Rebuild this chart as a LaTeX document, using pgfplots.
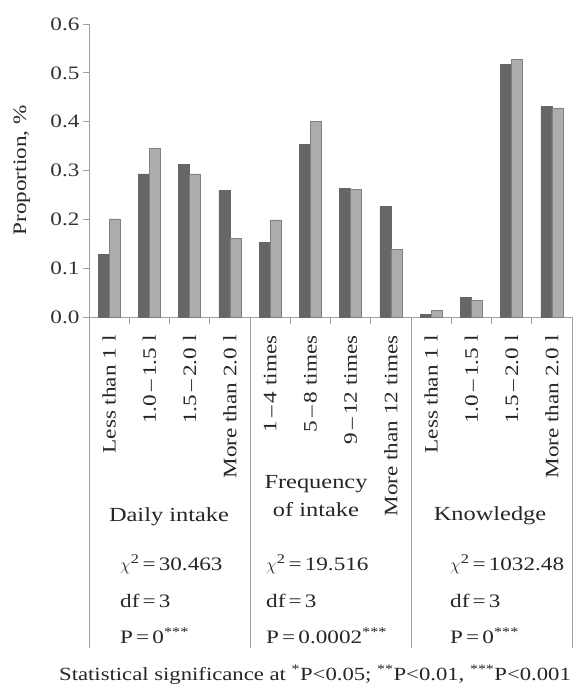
\documentclass[border=0pt]{standalone}
\usepackage{fontspec}
\setmainfont{Liberation Serif}[FakeStretch=1.22]
\usepackage{pgfplots}
\usepackage{pgfplotstable}
\pgfplotsset{compat=1.18}
\newcommand\f{\fontsize{19pt}{23pt}\selectfont}
\newcommand\fg{\fontsize{20pt}{24pt}\selectfont}
\newcommand\fs{\fontsize{18.6pt}{22pt}\selectfont}
\definecolor{darkbar}{HTML}{666666}
\definecolor{lightbar}{HTML}{ADADAD}
\definecolor{axgray}{HTML}{A0A0A0}
\pgfplotstableread{
x a b
0 0.128 0.201
1 0.293 0.345
2 0.312 0.293
3 0.259 0.161
4 0.153 0.199
5 0.353 0.401
6 0.263 0.261
7 0.226 0.139
8 0.005 0.013
9 0.040 0.034
10 0.518 0.527
11 0.431 0.428
}\datatable
\begin{document}
\begin{tikzpicture}
\useasboundingbox (0,0) rectangle (578pt,-687pt);
\begin{axis}[
  at={(89pt,-24pt)}, anchor=north west,
  scale only axis, width=483pt, height=293pt,
  xmin=-0.5, xmax=11.5, ymin=0, ymax=0.6,
  clip=false,
  axis lines*=left,
  axis line style={axgray, line width=0.9pt, -},
  ybar=0pt, bar width=11pt,
  ytick={0,0.1,0.2,0.3,0.4,0.5,0.6},
  yticklabel style={/pgf/number format/fixed, /pgf/number format/fixed zerofill, /pgf/number format/precision=1, /pgf/number format/assume math mode=true, font=\f\color{black!80}},
  y tick style={axgray, line width=0.9pt},
  ytick align=outside, major tick length=6pt,
  xtick={0,...,11},
  x tick style={draw=none},
  xticklabels={Less than 1 l, 1.0\,–\,1.5 l, 1.5\,–\,2.0 l, More than 2.0 l,
    1\,–\,4 times, 5\,–\,8 times, 9\,–\,12 times, More than 12 times,
    Less than 1 l, 1.0\,–\,1.5 l, 1.5\,–\,2.0 l, More than 2.0 l},
  xticklabel style={rotate=90, anchor=east, font=\f\color{black!85}},
  xticklabel shift=9pt,
  extra x ticks={0.5,1.5,2.5,4.5,5.5,6.5,8.5,9.5,10.5},
  extra x tick labels={},
  extra x tick style={x tick style={draw=axgray, line width=0.9pt}, xtick align=outside, major tick length=7pt},
  ylabel={Proportion, \%},
  ylabel style={font=\f\color{black!85}, at={(axis description cs:-0.139,0.5)}, anchor=center},
]
\addplot[fill=darkbar, draw=black!60, line width=0.6pt] table[x=x, y=a] {\datatable};
\addplot[fill=lightbar, draw=black!50, line width=0.6pt] table[x=x, y=b] {\datatable};
\draw[axgray, line width=0.9pt] (axis cs:-0.5,0) -- ([yshift=-331pt]axis cs:-0.5,0);
\draw[axgray, line width=0.9pt] (axis cs:3.5,0) -- ([yshift=-331pt]axis cs:3.5,0);
\draw[axgray, line width=0.9pt] (axis cs:7.5,0) -- ([yshift=-331pt]axis cs:7.5,0);
\draw[axgray, line width=0.9pt] (axis cs:11.5,0) -- ([yshift=-331pt]axis cs:11.5,0);
\end{axis}
\begin{scope}[every node/.style={font=\f, text=black!85, inner sep=0pt}]
\node[anchor=base, font=\fg] at (169pt,-521pt) {Daily intake};
\node[anchor=base, font=\fg] at (316pt,-488pt) {Frequency};
\node[anchor=base, font=\fg] at (316pt,-516pt) {of intake};
\node[anchor=base, font=\fg] at (490pt,-520pt) {Knowledge};
\node[anchor=base west] at (120pt,-570pt) {$\chi$\textsuperscript{2}\,=\,30.463};
\node[anchor=base west] at (120pt,-607pt) {df\,=\,3};
\node[anchor=base west] at (120pt,-643pt) {P\,=\,0\textsuperscript{***}};
\node[anchor=base west] at (266pt,-570pt) {$\chi$\textsuperscript{2}\,=\,19.516};
\node[anchor=base west] at (266pt,-607pt) {df\,=\,3};
\node[anchor=base west] at (266pt,-643pt) {P\,=\,0.0002\textsuperscript{***}};
\node[anchor=base west] at (450pt,-570pt) {$\chi$\textsuperscript{2}\,=\,1032.48};
\node[anchor=base west] at (450pt,-607pt) {df\,=\,3};
\node[anchor=base west] at (450pt,-643pt) {P\,=\,0\textsuperscript{***}};
\node[anchor=base, font=\fs] at (315pt,-680pt) {Statistical significance at \textsuperscript{*}P<0.05; \textsuperscript{**}P<0.01, \textsuperscript{***}P<0.001};
\end{scope}
\end{tikzpicture}
\end{document}
